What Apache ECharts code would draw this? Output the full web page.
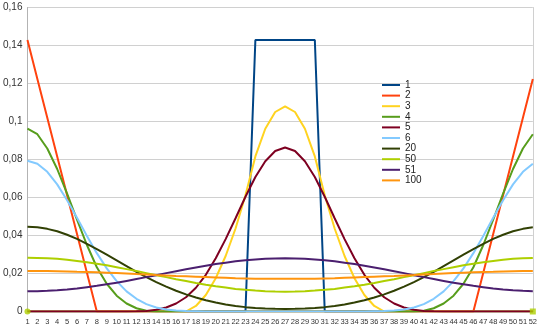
<!DOCTYPE html>
<html>
<head>
<meta charset="utf-8">
<script src="https://cdn.jsdelivr.net/npm/echarts@6/dist/echarts.min.js"></script>
<style>
  html, body { margin: 0; padding: 0; background: #fff; }
  #chart { width: 540px; height: 331px; }
</style>
</head>
<body>
<div id="chart"></div>
<script>
// Positions on the ring, 1..52
const positions = [];
for (let i = 1; i <= 52; i++) positions.push(String(i));

const yTicks = [0, 0.02, 0.04, 0.06, 0.08, 0.1, 0.12, 0.14, 0.16];

// Probability of each position after n steps
const step1 = [
  0,0,0,0,0,0,0,0,0,0, 0,0,0,0,0,0,0,0,0,0, 0,0,0,
  0.1429,0.1429,0.1429,0.1429,0.1429,0.1429,0.1429,
  0,0,0,0,0,0,0,0,0,0, 0,0,0,0,0,0,0,0,0,0, 0,0
];
const step2 = [
  0.1429,0.1224,0.1020,0.0816,0.0612,0.0408,0.0204,
  0,0,0,0,0,0,0,0,0,0, 0,0,0,0,0,0,0,0,0,0, 0,0,0,0,0,0,0,0,0,0, 0,0,0,0,0,0,0,0,0,
  0.0204,0.0408,0.0612,0.0816,0.1020,0.1224
];
const step3 = [
  0,0,0,0,0,0,0,0,0,0, 0,0,0,0,0,0,0,
  0.0029,0.0087,0.0175,0.0292,0.0437,0.0612,0.0816,0.0962,0.1050,0.1079,
  0.1050,0.0962,0.0816,0.0612,0.0437,0.0292,0.0175,0.0087,0.0029,
  0,0,0,0,0,0,0,0,0,0, 0,0,0,0,0,0
];
const step4 = [
  0.0962,0.0933,0.0858,0.0750,0.0621,0.0483,0.0350,0.0233,0.0146,0.0083,0.0042,0.0017,0.0004,
  0,0,0,0,0,0,0,0,0,0, 0,0,0,0,0,0,0,0,0,0, 0,0,0,0,0,0,0,
  0.0004,0.0017,0.0042,0.0083,0.0146,0.0233,0.0350,0.0483,0.0621,0.0750,0.0858,0.0933
];
const step5 = [
  0,0,0,0,0,0,0,0,0,0, 0,
  0.0001,0.0003,0.0009,0.0021,0.0042,0.0075,0.0125,0.0193,0.0280,0.0381,0.0491,0.0604,0.0708,0.0791,0.0845,
  0.0863,
  0.0845,0.0791,0.0708,0.0604,0.0491,0.0381,0.0280,0.0193,0.0125,0.0075,0.0042,0.0021,0.0009,0.0003,0.0001,
  0,0,0,0,0,0,0,0,0,0
];
const step6 = [
  0.0793,0.0778,0.0735,0.0669,0.0586,0.0493,0.0398,0.0307,0.0227,0.0160,
  0.0106,0.0067,0.0039,0.0021,0.0011,0.0005,0.0002,0.0001,0.0000,
  0,0,0,0,0,0,0,0,0,0, 0,0,0,0,0,
  0.0000,0.0001,0.0002,0.0005,0.0011,0.0021,0.0039,0.0067,0.0106,
  0.0160,0.0227,0.0307,0.0398,0.0493,0.0586,0.0669,0.0735,0.0778
];
const step20 = [
  0.0446,0.0443,0.0435,0.0422,0.0404,0.0382,0.0356,0.0328,0.0299,0.0269,
  0.0239,0.0209,0.0181,0.0155,0.0131,0.0109,0.0090,0.0074,0.0059,0.0047,
  0.0037,0.0029,0.0023,0.0019,0.0016,0.0014,0.0013,
  0.0014,0.0016,0.0019,0.0023,0.0029,0.0037,0.0047,0.0059,0.0074,0.0090,
  0.0109,0.0131,0.0155,0.0181,0.0209,0.0239,0.0269,0.0299,0.0328,0.0356,
  0.0382,0.0404,0.0422,0.0435,0.0443
];
const step50 = [
  0.0283,0.0282,0.0280,0.0277,0.0272,0.0266,0.0259,0.0251,0.0243,0.0233,
  0.0223,0.0213,0.0202,0.0191,0.0181,0.0170,0.0160,0.0150,0.0141,0.0133,
  0.0126,0.0119,0.0114,0.0110,0.0107,0.0105,0.0104,
  0.0105,0.0107,0.0110,0.0114,0.0119,0.0126,0.0133,0.0141,0.0150,0.0160,
  0.0170,0.0181,0.0191,0.0202,0.0213,0.0223,0.0233,0.0243,0.0251,0.0259,
  0.0266,0.0272,0.0277,0.0280,0.0282
];
const step51 = [
  0.0107,0.0107,0.0109,0.0112,0.0116,0.0121,0.0128,0.0135,0.0143,0.0151,
  0.0161,0.0171,0.0181,0.0191,0.0202,0.0212,0.0222,0.0232,0.0241,0.0250,
  0.0257,0.0264,0.0270,0.0274,0.0277,0.0279,0.0280,
  0.0279,0.0277,0.0274,0.0270,0.0264,0.0257,0.0250,0.0241,0.0232,0.0222,
  0.0212,0.0202,0.0191,0.0181,0.0171,0.0161,0.0151,0.0143,0.0135,0.0128,
  0.0121,0.0116,0.0112,0.0109,0.0107
];
const step100 = [
  0.0213,0.0213,0.0213,0.0212,0.0211,0.0209,0.0208,0.0206,0.0204,0.0202,
  0.0200,0.0197,0.0195,0.0192,0.0190,0.0187,0.0185,0.0183,0.0181,0.0179,
  0.0177,0.0175,0.0174,0.0173,0.0172,0.0172,0.0172,
  0.0172,0.0172,0.0173,0.0174,0.0175,0.0177,0.0179,0.0181,0.0183,0.0185,
  0.0187,0.0190,0.0192,0.0195,0.0197,0.0200,0.0202,0.0204,0.0206,0.0208,
  0.0209,0.0211,0.0212,0.0213,0.0213
];

const seriesNames = ['1', '2', '3', '4', '5', '6', '20', '50', '51', '100'];
const seriesValues = [step1, step2, step3, step4, step5, step6, step20, step50, step51, step100];
const seriesColors = ['#004586', '#ff420e', '#ffd320', '#579d1c', '#7e0021',
                      '#83caff', '#314004', '#aecf00', '#4b1f6f', '#ff950e'];

const lineSeries = seriesNames.map((name, i) => ({
  name: name,
  type: 'line',
  data: seriesValues[i],
  symbol: 'none',
  lineStyle: { width: 2, color: seriesColors[i] },
  itemStyle: { color: seriesColors[i] },
  animation: false
}));

// endpoint markers on the zero line
lineSeries.push({
  type: 'scatter',
  data: [
    { value: ['1', 0], symbol: 'circle', symbolSize: 6 },
    { value: ['52', 0], symbol: 'rect', symbolSize: 6 }
  ],
  itemStyle: { color: '#aecf00' },
  z: 5,
  animation: false
});

const chart = echarts.init(document.getElementById('chart'), null, { renderer: 'canvas' });
chart.setOption({
  backgroundColor: '#ffffff',
  animation: false,
  grid: { left: 27, right: 7, top: 7.5, bottom: 19.5, containLabel: false },
  legend: {
    data: seriesNames,
    orient: 'vertical',
    left: 382,
    top: 80,
    icon: 'rect',
    itemWidth: 18,
    itemHeight: 2,
    itemGap: 0.6,
    padding: 0,
    textStyle: { fontSize: 10, lineHeight: 10, color: '#222', fontFamily: 'Liberation Sans' }
  },
  xAxis: {
    type: 'category',
    data: positions,
    boundaryGap: false,
    axisLine: { show: true, lineStyle: { color: '#b3b3b3', width: 1 } },
    axisTick: { show: false },
    splitLine: { show: false },
    axisLabel: { interval: 0, fontSize: 7.5, color: '#333', margin: 6, fontFamily: 'Liberation Sans' }
  },
  yAxis: [{
    type: 'value',
    min: yTicks[0],
    max: yTicks[yTicks.length - 1],
    interval: 0.02,
    axisLine: { show: true, lineStyle: { color: '#b3b3b3', width: 1 } },
    axisTick: { show: false },
    splitLine: { show: true, lineStyle: { color: '#d0d0d0', width: 1 } },
    axisLabel: {
      fontSize: 10, color: '#333', margin: 5, fontFamily: 'Liberation Sans',
      formatter: v => String(Math.round(v * 100) / 100).replace('.', ',')
    }
  }, {
    type: 'value',
    position: 'right',
    min: yTicks[0],
    max: yTicks[yTicks.length - 1],
    interval: 0.02,
    axisLine: { show: true, lineStyle: { color: '#d0d0d0', width: 1 } },
    axisTick: { show: false },
    splitLine: { show: false },
    axisLabel: { show: false }
  }],
  series: lineSeries
});
</script>
</body>
</html>
